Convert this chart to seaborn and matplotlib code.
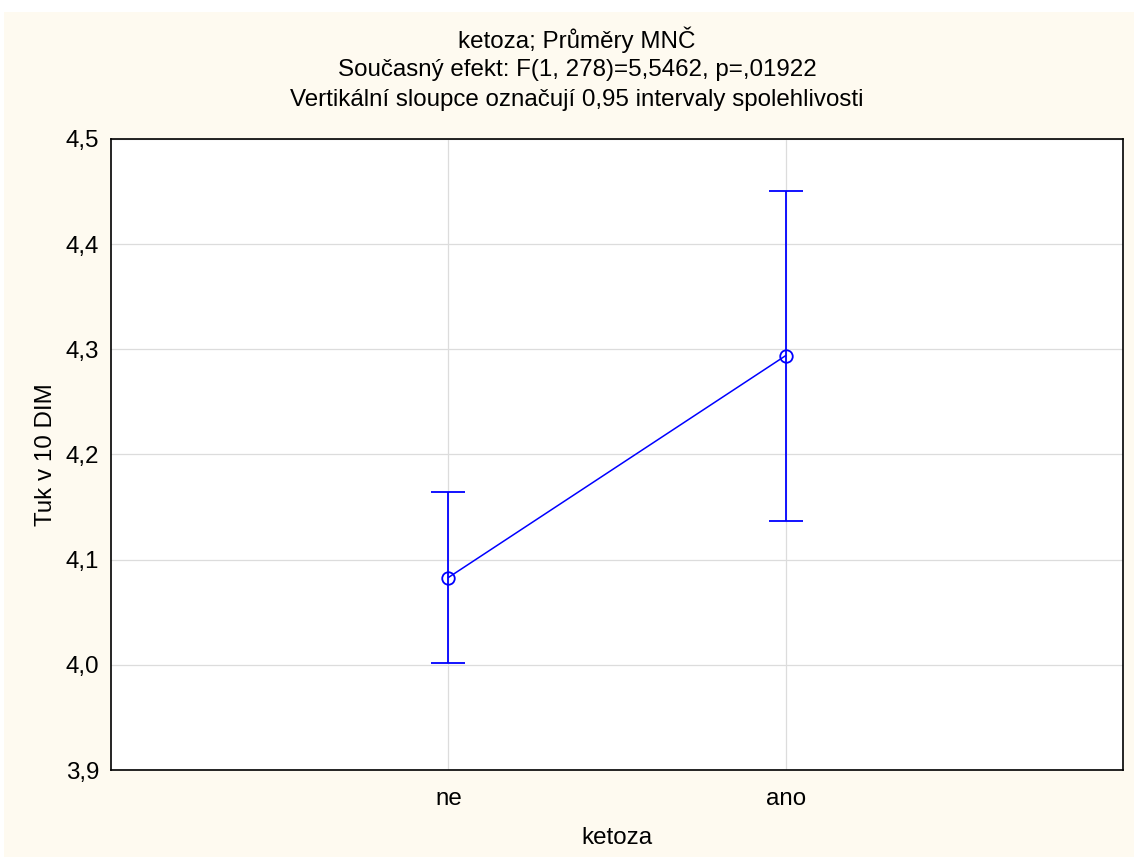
import matplotlib
matplotlib.use("Agg")
import matplotlib.pyplot as plt
from matplotlib.patches import Rectangle
import seaborn as sns
import pandas as pd

# Least-squares means of fat content by ketosis group, with 95% CIs
groups = ["ne", "ano"]
means = [4.083, 4.294]
ci_low = [4.002, 4.137]
ci_high = [4.164, 4.451]

title_lines = [
    "ketoza; Průměry MNČ",
    "Současný efekt: F(1, 278)=5,5462, p=,01922",
    "Vertikální sloupce označují 0,95 intervaly spolehlivosti",
]
y_ticks = [3.9, 4.0, 4.1, 4.2, 4.3, 4.4, 4.5]

sns.set_theme(style="white")
plt.rcParams["font.family"] = ["Liberation Sans", "DejaVu Sans"]
plt.rcParams["text.color"] = "black"
plt.rcParams["axes.labelcolor"] = "black"

cream = "#FEFAF0"
blue = "#0000FF"
fs = 17.4

fig = plt.figure(figsize=(11.34, 8.57), dpi=100)
fig.patch.set_facecolor("white")
fig.patches.append(Rectangle((4 / 1134, 0), 1, 1 - 12 / 857,
                             transform=fig.transFigure, facecolor=cream,
                             edgecolor="none", zorder=-10))

ax = fig.add_axes([111 / 1134, 1 - 770 / 857, (1123 - 111) / 1134, (770 - 139) / 857])
ax.set_facecolor("white")

df = pd.DataFrame({"pos": range(len(groups)), "mean": means})
sns.lineplot(data=df, x="pos", y="mean", ax=ax, color=blue, linewidth=1.1,
             marker="o", markersize=9, markerfacecolor="none",
             markeredgecolor=blue, markeredgewidth=1.3, zorder=4)

err_lo = [m - lo for m, lo in zip(means, ci_low)]
err_hi = [hi - m for m, hi in zip(means, ci_high)]
ax.errorbar(df["pos"], means, yerr=[err_lo, err_hi], fmt="none",
            ecolor=blue, elinewidth=1.3, capsize=12, capthick=1.3, zorder=3)

ax.set_xlim(-1, 2)
ax.set_ylim(3.9, 4.5)
ax.set_xticks(df["pos"])
ax.set_xticklabels(groups)
ax.set_yticks(y_ticks)
ax.set_yticklabels([f"{v:.1f}".replace(".", ",") for v in y_ticks])

ax.grid(True, color="#dcdcdc", linewidth=0.9)
ax.set_axisbelow(True)
for s in ax.spines.values():
    s.set_color("black")
    s.set_linewidth(1.2)

ax.tick_params(axis="both", direction="in", length=4, width=0.9,
               colors="black", labelsize=fs, pad=8.5)
ax.tick_params(axis="x", pad=13)

ax.set_xlabel("ketoza", fontsize=fs, labelpad=12, color="black")
ax.set_ylabel("Tuk v 10 DIM", fontsize=fs, labelpad=6.5, color="black")

for i, line in enumerate(title_lines):
    fig.text(577 / 1134, 1 - (40 + 30 * i) / 857, line, ha="center",
             va="center", fontsize=fs, color="black")

fig.savefig("out.png", dpi=100)
